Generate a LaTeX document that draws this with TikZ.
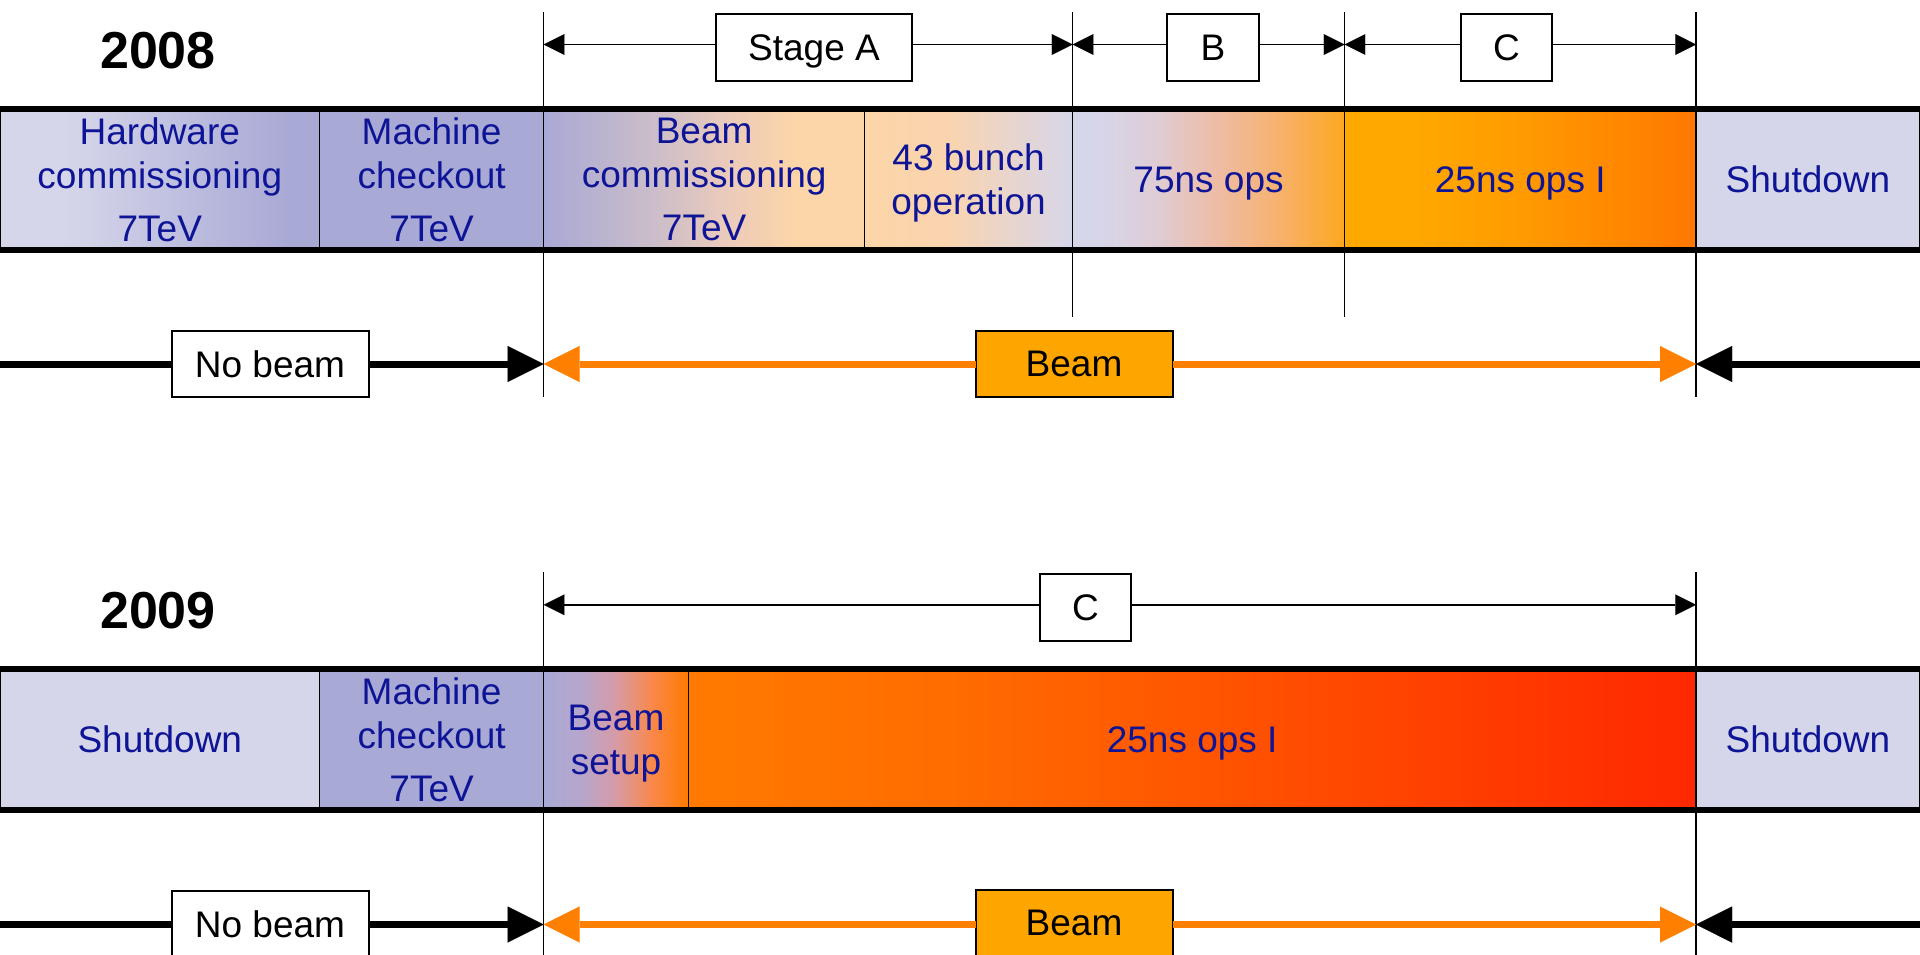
\documentclass[tikz,border=0pt]{standalone}
\usepackage{fontspec}
\setmainfont{Liberation Sans}
\usetikzlibrary{arrows.meta}
\definecolor{lav}{RGB}{214,214,234}
\definecolor{lavd}{RGB}{169,169,214}
\definecolor{peach}{RGB}{252,213,168}
\definecolor{navytext}{RGB}{14,20,150}
\definecolor{beamfill}{RGB}{255,165,0}
\definecolor{beamline}{RGB}{255,128,0}
\definecolor{bcA}{RGB}{205,190,200}
\definecolor{bcB}{RGB}{234,202,188}
\definecolor{boA}{RGB}{250,212,175}
\definecolor{nsZ}{RGB}{222,205,214}
\definecolor{nsA}{RGB}{236,190,172}
\definecolor{nsB}{RGB}{247,178,115}
\definecolor{nsC}{RGB}{253,168,30}
\definecolor{oA}{RGB}{255,168,0}
\definecolor{oB}{RGB}{255,155,0}
\definecolor{oB2}{RGB}{255,138,0}
\definecolor{oC}{RGB}{255,120,0}
\definecolor{bsA}{RGB}{182,166,204}
\definecolor{bsB}{RGB}{215,155,165}
\definecolor{bsC}{RGB}{250,135,70}
\definecolor{rA}{RGB}{255,122,0}
\definecolor{rB}{RGB}{255,108,0}
\definecolor{rC}{RGB}{255,40,0}
\pgfdeclarehorizontalshading{shHW}{100bp}{color(0bp)=(lav); color(25bp)=(lav); color(35bp)=(lav); color(70bp)=(lavd); color(100bp)=(lavd)}
\pgfdeclarehorizontalshading{shBC}{100bp}{color(0bp)=(lavd); color(25bp)=(lavd); color(43bp)=(bcA); color(53bp)=(bcB); color(64bp)=(peach); color(100bp)=(peach)}
\pgfdeclarehorizontalshading{shBO}{100bp}{color(0bp)=(peach); color(25bp)=(peach); color(45bp)=(boA); color(75bp)=(lav); color(100bp)=(lav)}
\pgfdeclarehorizontalshading{shNSa}{100bp}{color(0bp)=(lav); color(25bp)=(lav); color(29bp)=(lav); color(40bp)=(nsZ); color(50bp)=(nsA); color(62bp)=(nsB); color(75bp)=(nsC); color(100bp)=(nsC)}
\pgfdeclarehorizontalshading{shNSb}{100bp}{color(0bp)=(oA); color(25bp)=(oA); color(35bp)=(oA); color(50bp)=(oB); color(62bp)=(oB2); color(75bp)=(oC); color(100bp)=(oC)}
\pgfdeclarehorizontalshading{shBS}{100bp}{color(0bp)=(lavd); color(25bp)=(lavd); color(38bp)=(bsA); color(50bp)=(bsB); color(63bp)=(bsC); color(75bp)=(rA); color(100bp)=(rA)}
\pgfdeclarehorizontalshading{shNSc}{100bp}{color(0bp)=(rA); color(25bp)=(rA); color(38bp)=(rB); color(75bp)=(rC); color(100bp)=(rC)}
\tikzset{
  cell/.style={rectangle, draw=black, line width=1.5pt, inner sep=0pt, outer sep=0pt,
    minimum height=141pt, align=center, text=navytext, text depth=0pt,
    font=\fontsize{37}{44}\selectfont},
  lbl/.style={rectangle, draw=black, line width=2pt, fill=white, inner sep=0pt, outer sep=0pt,
    minimum height=66.7pt, text depth=0pt, font=\fontsize{37}{44}\selectfont},
  yearlbl/.style={font=\fontsize{52}{60}\selectfont\bfseries},
  barline/.style={line width=6pt, line cap=rect},
  guide/.style={line width=1.5pt},
  dimline/.style={line width=1.7pt, -{Triangle[length=20.7pt,width=20.7pt,line width=0.01pt]}},
  bigblack/.style={line width=7pt, draw=black},
  bigorange/.style={line width=7pt, draw=beamline},
  bighead/.style={-{Triangle[length=36pt,width=36pt,line width=0.01pt]}}
}
\begin{document}
\begin{tikzpicture}[x=1pt,y=-1pt]
\useasboundingbox (0,0) rectangle (1920,954);
\clip (0,0) rectangle (1920,954);
% guide lines
\draw[guide] (543.7,12) -- (543.7,397);
\draw[guide] (1072.6,12) -- (1072.6,317);
\draw[guide] (1344.5,12) -- (1344.5,317);
\draw[guide] (1696,12) -- (1696,397);
\draw[guide] (543.7,572) -- (543.7,960);
\draw[guide] (1696,572) -- (1696,960);
% years
\node[yearlbl] (y8) at (158,51) {2008};
\node[yearlbl] (y9) at (158,611) {2009};
% 2008 bar
\node[cell, shade, shading=shHW, minimum width=319.6pt] (hw8) at (159.8,179.5) {Hardware\\commissioning\\[9pt]7TeV};
\node[cell, fill=lavd, minimum width=224.1pt] (mc8) at (431.65,179.5) {Machine\\checkout\\[9pt]7TeV};
\node[cell, shade, shading=shBC, minimum width=320.8pt] (bc8) at (704.1,179.5) {Beam\\commissioning\\[9pt]7TeV};
\node[cell, shade, shading=shBO, minimum width=208.1pt] (bo8) at (968.55,179.5) {43 bunch\\operation};
\node[cell, shade, shading=shNSa, minimum width=271.9pt] (ns75) at (1208.55,179.5) {75ns ops};
\node[cell, shade, shading=shNSb, minimum width=351.5pt] (ns25a) at (1520.25,179.5) {25ns ops I};
\node[cell, fill=lav, minimum width=224pt] (sd8) at (1808,179.5) {Shutdown};
\draw[barline] (hw8.north west) -- (sd8.north east);
\draw[barline] (hw8.south west) -- (sd8.south east);
% 2009 bar
\node[cell, fill=lav, minimum width=319.6pt] (sd9a) at (159.8,739.5) {Shutdown};
\node[cell, fill=lavd, minimum width=224.1pt] (mc9) at (431.65,739.5) {Machine\\checkout\\[9pt]7TeV};
\node[cell, shade, shading=shBS, minimum width=144.6pt] (bs9) at (616,739.5) {Beam\\setup};
\node[cell, shade, shading=shNSc, minimum width=1007.7pt] (ns25b) at (1192.15,739.5) {25ns ops I};
\node[cell, fill=lav, minimum width=224pt] (sd9b) at (1808,739.5) {Shutdown};
\draw[barline] (sd9a.north west) -- (sd9b.north east);
\draw[barline] (sd9a.south west) -- (sd9b.south east);
% dimension labels 2008
\node[lbl, minimum width=196pt] (stA) at (814,47.3) {Stage A};
\node[lbl, minimum width=91.5pt] (stB) at (1213,47.3) {B};
\node[lbl, minimum width=91.5pt] (stC) at (1506.5,47.3) {C};
\coordinate (dA0) at (543.7,44.5);
\coordinate (dA1) at (1072.6,44.5);
\coordinate (dB1) at (1344.5,44.5);
\coordinate (dC1) at (1696,44.5);
\draw[dimline] (stA.west |- dA0) -- (dA0);
\draw[dimline] (stA.east |- dA0) -- (dA1);
\draw[dimline] (stB.west |- dA0) -- (dA1);
\draw[dimline] (stB.east |- dA0) -- (dB1);
\draw[dimline] (stC.west |- dA0) -- (dB1);
\draw[dimline] (stC.east |- dA0) -- (dC1);
% dimension label 2009
\node[lbl, minimum width=91.5pt] (stC9) at (1085.5,607.3) {C};
\coordinate (e0) at (543.7,604.8);
\coordinate (e1) at (1696,604.8);
\draw[dimline] (stC9.west |- e0) -- (e0);
\draw[dimline] (stC9.east |- e0) -- (e1);
% beam rows
\node[lbl, minimum width=197pt] (nb8) at (270,364) {No beam};
\node[lbl, fill=beamfill, minimum width=197pt] (bm8) at (1074,364) {Beam};
\coordinate (L8) at (0,364);
\coordinate (Ta8) at (543.7,364);
\coordinate (Tb8) at (1696,364);
\coordinate (R8) at (1920,364);
\draw[bigblack] (L8) -- (nb8);
\draw[bigblack, bighead] (nb8) -- (Ta8);
\draw[bigblack, bighead] (R8) -- (Tb8);
\draw[bigorange, bighead] (bm8) -- (Ta8);
\draw[bigorange, bighead] (bm8) -- (Tb8);
\node[lbl, minimum width=197pt] (nb9) at (270,924) {No beam};
\node[lbl, fill=beamfill, minimum width=197pt] (bm9) at (1074,923) {Beam};
\coordinate (L9) at (0,924.5);
\coordinate (Ta9) at (543.7,924.5);
\coordinate (Tb9) at (1696,924.5);
\coordinate (R9) at (1920,924.5);
\draw[bigblack] (L9) -- (nb9.west |- L9);
\draw[bigblack, bighead] (nb9.east |- L9) -- (Ta9);
\draw[bigblack, bighead] (R9) -- (Tb9);
\draw[bigorange, bighead] (bm9.west |- Ta9) -- (Ta9);
\draw[bigorange, bighead] (bm9.east |- Tb9) -- (Tb9);
\end{tikzpicture}
\end{document}
